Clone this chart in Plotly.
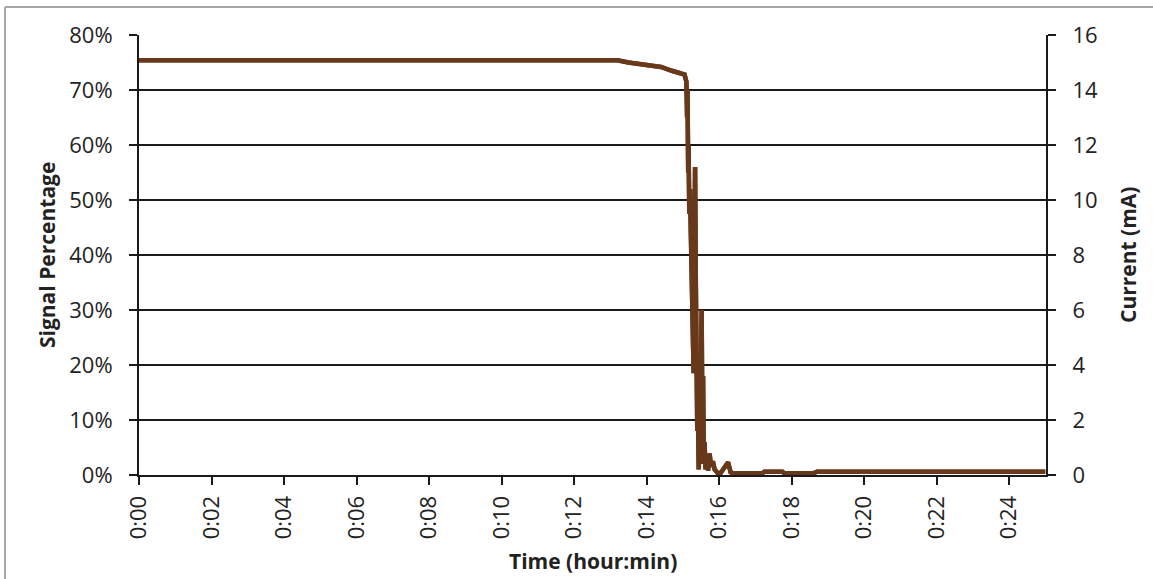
import plotly.graph_objects as go

# Time in minutes since start
time_min = [0, 13.2, 13.5, 13.9, 14.4, 14.7, 14.95, 15.05, 15.08, 15.10,
            15.12, 15.13, 15.15, 15.16, 15.18, 15.20, 15.22, 15.24, 15.26, 15.28,
            15.30, 15.32, 15.34, 15.36, 15.38, 15.40, 15.42, 15.44, 15.46, 15.48,
            15.50, 15.52, 15.54, 15.56, 15.58, 15.60, 15.63, 15.66, 15.70, 15.74,
            15.78, 15.83, 15.88, 15.93, 15.97, 16.05, 16.15, 16.25, 16.32, 16.40,
            17.2, 17.25, 17.75, 17.8, 18.6, 18.7, 25.0]

# Signal percentage (%), left axis
signal_pct = [75.4, 75.4, 75.0, 74.7, 74.2, 73.5, 73.1, 72.8, 72.0, 71.5,
              65, 70, 55, 60, 47.5, 52, 45, 38, 30, 22,
              18.5, 40, 56, 35, 20, 8, 12, 1, 6, 2,
              15, 30, 10, 18, 2, 6, 1, 3.5, 0.8, 3.9,
              1.5, 2.5, 1.0, 0.5, 0.3, 0.4, 1.2, 2.3, 0.5, 0.3,
              0.3, 0.6, 0.6, 0.3, 0.3, 0.6, 0.6]

# Current (mA), right axis
current_ma = [15.08, 15.08, 15.0, 14.94, 14.84, 14.7, 14.62, 14.56, 14.4, 14.3,
              13.0, 14.0, 11.0, 12.0, 9.5, 10.4, 9.0, 7.6, 6.0, 4.4,
              3.7, 8.0, 11.2, 7.0, 4.0, 1.6, 2.4, 0.2, 1.2, 0.4,
              3.0, 6.0, 2.0, 3.6, 0.4, 1.2, 0.2, 0.7, 0.16, 0.78,
              0.3, 0.5, 0.2, 0.1, 0.06, 0.08, 0.24, 0.46, 0.1, 0.06,
              0.06, 0.12, 0.12, 0.06, 0.06, 0.12, 0.12]

tick_vals = list(range(0, 25, 2))
tick_text = ["0:%02d" % v for v in tick_vals]

x_title = "Time (hour:min)"
y_title = "Signal Percentage"
y2_title = "Current (mA)"

FONT = "'Open Sans', sans-serif"
BROWN = "#68381A"
INK = "#222222"

fig = go.Figure()
fig.add_trace(go.Scatter(x=time_min, y=signal_pct, mode="lines",
                         line=dict(color=BROWN, width=4.5), showlegend=False,
                         hoverinfo="skip", name="Signal"))
fig.add_trace(go.Scatter(x=time_min, y=current_ma, mode="lines", yaxis="y2",
                         line=dict(color=BROWN, width=4.5), showlegend=False,
                         hoverinfo="skip", name="Current"))

axis_common = dict(showline=True, linecolor="#1a1a1a", linewidth=2,
                   ticks="outside", ticklen=8, tickwidth=2, tickcolor="#1a1a1a",
                   tickfont=dict(family=FONT, size=22, color=INK),
                   zeroline=False, automargin=False)
title_font = dict(family=FONT, size=21, color=INK)

fig.update_layout(
    width=1153, height=579,
    margin=dict(l=139, r=107, t=35, b=104),
    paper_bgcolor="white", plot_bgcolor="white",
    font=dict(family=FONT, color=INK),
    xaxis=dict(range=[0, 25.02], tickvals=tick_vals, ticktext=tick_text,
               tickangle=-90, showgrid=False, ticklabelstandoff=2,
               **axis_common),
    yaxis=dict(range=[0, 80], dtick=10, ticksuffix="%", showgrid=True,
               gridcolor="#1a1a1a", gridwidth=2, ticklabelstandoff=12,
               **axis_common),
    yaxis2=dict(range=[0, 16], dtick=2, overlaying="y", side="right",
                showgrid=False, ticklabelstandoff=12,
                **axis_common),
    annotations=[
        dict(text="<b>%s</b>" % x_title, xref="paper", yref="paper",
             x=0.5, y=-0.196, xanchor="center", yanchor="middle",
             showarrow=False, font=title_font),
        dict(text="<b>%s</b>" % y_title, xref="paper", yref="paper",
             x=-0.1014, y=0.5, xanchor="center", yanchor="middle",
             textangle=-90, showarrow=False, font=title_font),
        dict(text="<b>%s</b>" % y2_title, xref="paper", yref="paper",
             x=1.0904, y=0.5, xanchor="center", yanchor="middle",
             textangle=-90, showarrow=False, font=title_font),
    ],
    shapes=[
        dict(type="line", xref="paper", yref="paper", x0=-0.1477, x1=-0.1477,
             y0=-0.3, y1=1.0636, line=dict(color="#A6A6A6", width=2)),
        dict(type="line", xref="paper", yref="paper", x0=-0.1477, x1=1.2,
             y0=1.0636, y1=1.0636, line=dict(color="#A6A6A6", width=2)),
    ],
)

fig.write_html(
    "out.html",
    config={"displayModeBar": False},
    post_script="document.body.style.margin='0';document.body.style.padding='0';"
                "document.body.style.overflow='hidden';",
)
